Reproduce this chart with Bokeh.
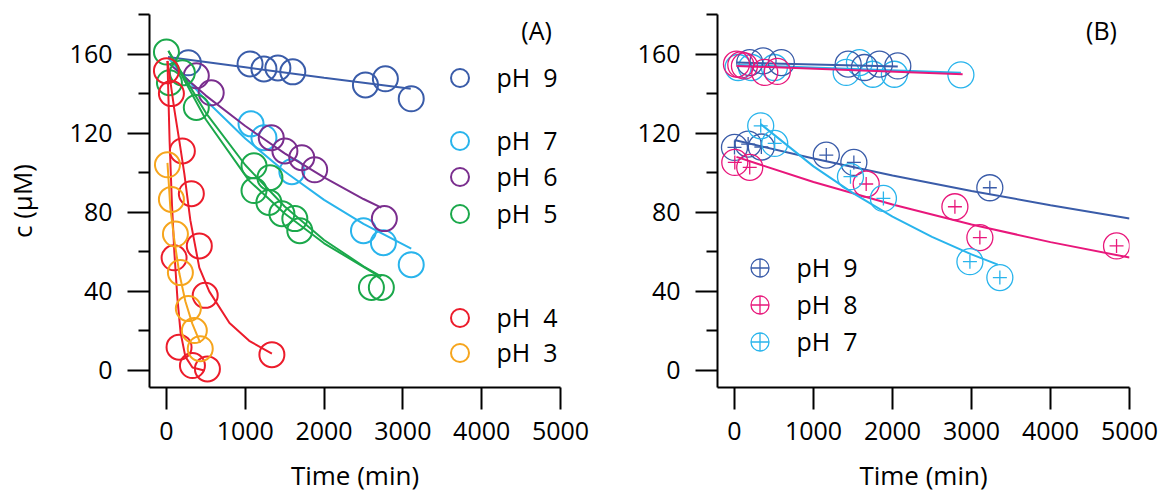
from bokeh.plotting import figure
from bokeh.layouts import row
from bokeh.models import Range1d, FixedTicker, Legend, LegendItem, Label
from bokeh.embed import file_html
from bokeh.resources import INLINE

FONT = "Open Sans"
FS = "25px"
FS_AX = "26px"

# ---------------- Panel A data (time in min, concentration in uM) ----------------
a_ph9_t = [278, 1061, 1237, 1414, 1603, 2525, 2778, 3106]
a_ph9_c = [155.6, 155.0, 152.5, 153.0, 151.0, 144.4, 147.5, 137.4]
a_ph9_fit_t = [20, 1000, 2000, 3100]
a_ph9_fit_c = [158.5, 153.3, 148.0, 142.5]

a_ph7_t = [1073, 1237, 1591, 2500, 2753, 3106]
a_ph7_c = [124.7, 117.7, 100.5, 70.7, 64.6, 53.5]
a_ph7_fit_t = [25, 500, 1000, 1500, 2000, 2500, 3106]
a_ph7_fit_c = [158.0, 136.6, 117.3, 100.6, 86.3, 74.1, 61.6]

a_ph6_t = [379, 568, 1330, 1503, 1717, 1881, 2765]
a_ph6_c = [149.0, 140.4, 117.7, 111.0, 107.6, 101.5, 76.8]
a_ph6_fit_t = [40, 500, 1000, 1500, 2000, 2500, 2727]
a_ph6_fit_c = [155.0, 139.0, 123.6, 109.8, 97.6, 86.7, 82.3]

a_ph5_t = [0, 38, 202, 379, 1111, 1313, 1111, 1300, 1465, 1629, 1692, 2601, 2727]
a_ph5_c = [161.0, 145.5, 150.5, 133.0, 103.5, 97.5, 91.0, 85.0, 79.3, 76.8, 70.7, 42.0, 42.0]
a_ph5_fit1_t = [25, 500, 1048, 1500, 2000, 2664]
a_ph5_fit1_c = [161.6, 126.9, 96.0, 79.4, 64.3, 48.5]
a_ph5_fit2_t = [25, 500, 1000, 1500, 2000, 2500, 2727]
a_ph5_fit2_c = [161.6, 130.3, 103.9, 82.9, 66.0, 52.7, 47.5]

a_ph4_t = [0, 63, 97, 160, 202, 316, 330, 417, 492, 520, 1338]
a_ph4_c = [151.5, 140.0, 57.0, 11.8, 111.0, 89.4, 2.5, 63.0, 38.0, 0.8, 8.0]
a_ph4_fit1_t = [13, 40, 70, 100, 140, 180, 240, 330, 480]
a_ph4_fit1_c = [156.5, 116.0, 84.0, 60.0, 36.0, 19.0, 7.0, 1.5, 0.0]
a_ph4_fit2_t = [13, 100, 164, 227, 303, 417, 543, 800, 1050, 1338]
a_ph4_fit2_c = [156.5, 132.0, 116.0, 99.5, 76.0, 52.0, 40.0, 24.0, 15.0, 8.5]

a_ph3_t = [13, 63, 114, 177, 278, 354, 429]
a_ph3_c = [104.0, 86.5, 69.0, 49.5, 31.3, 20.2, 11.0]
a_ph3_fit_t = [13, 50, 101, 164, 240, 328, 429]
a_ph3_fit_c = [105.0, 82.0, 65.7, 49.0, 35.0, 23.7, 14.0]

# ---------------- Panel B data ----------------
# upper group (plain circles)
b_ph9_hi_t = [193, 362, 593, 1439, 1645, 1835, 2067]
b_ph9_hi_c = [155.7, 156.6, 155.7, 154.9, 153.2, 154.9, 154.0]
b_ph9_hi_fit_t = [25, 2067]
b_ph9_hi_fit_c = [155.7, 153.7]
b_ph8_hi_t = [25, 80, 126, 383, 543]
b_ph8_hi_c = [154.9, 154.5, 154.0, 150.7, 151.2]
b_ph8_hi_fit_t = [25, 2888]
b_ph8_hi_fit_c = [154.0, 149.8]
b_ph7_hi_t = [46, 215, 505, 1414, 1582, 1751, 2024, 2866]
b_ph7_hi_c = [153.2, 153.2, 153.2, 150.7, 155.7, 149.8, 149.8, 149.5]
b_ph7_hi_fit_t = [46, 2866]
b_ph7_hi_fit_c = [154.5, 150.5]

# lower group (circles with cross)
b_ph9_lo_t = [0, 173, 340, 1162, 1511, 3232]
b_ph9_lo_c = [112.8, 114.5, 113.0, 108.9, 105.2, 92.4]
b_ph9_lo_fit_t = [0, 1000, 2000, 3000, 4000, 5000]
b_ph9_lo_fit_c = [116.5, 107.2, 98.6, 90.8, 83.6, 76.9]
b_ph8_lo_t = [4, 193, 1667, 2790, 3106, 4836]
b_ph8_lo_c = [105.2, 102.7, 94.3, 82.8, 67.2, 63.0]
b_ph8_lo_fit_t = [25, 1000, 2000, 3000, 4000, 5000]
b_ph8_lo_fit_c = [108.0, 95.3, 83.9, 73.8, 64.9, 57.1]
b_ph7_lo_t = [332, 509, 1468, 1885, 2980, 3359]
b_ph7_lo_c = [123.7, 114.8, 98.0, 87.0, 55.0, 47.0]
b_ph7_lo_fit_t = [332, 1000, 1500, 2000, 2500, 3000, 3333]
b_ph7_lo_fit_c = [124.6, 103.2, 89.7, 77.8, 67.6, 58.7, 53.5]

x_ticks = [0, 1000, 2000, 3000, 4000, 5000]
y_ticks = [0, 40, 80, 120, 160]
y_minor = [20, 60, 100, 140, 180]

C9 = "#3a5ca9"
C7 = "#29b4ec"
C6 = "#7a2e8e"
C5 = "#1ba84b"
C4 = "#ec1c2b"
C3 = "#f6a51d"
C8 = "#e8177b"

FRAME_H = 373
TOP = 14
HEIGHT = 505


def make_fig(width, left, right):
    p = figure(width=width, height=HEIGHT, x_range=Range1d(-215, 5000), y_range=Range1d(-8.6, 180),
               output_backend="svg", toolbar_location=None,
               min_border_left=left, min_border_right=right, min_border_top=TOP,
               min_border_bottom=HEIGHT - TOP - FRAME_H)
    p.xgrid.visible = False
    p.ygrid.visible = False
    p.outline_line_color = None
    p.background_fill_color = "white"
    p.xaxis.ticker = FixedTicker(ticks=x_ticks, minor_ticks=[])
    p.yaxis.ticker = FixedTicker(ticks=y_ticks, minor_ticks=y_minor)
    for ax in (p.xaxis[0], p.yaxis[0]):
        ax.axis_line_width = 2
        ax.axis_line_color = "black"
        ax.major_tick_line_width = 2
        ax.minor_tick_line_width = 2
        ax.major_tick_out = 22
        ax.major_tick_in = 0
        ax.minor_tick_out = 11
        ax.minor_tick_in = 0
        ax.major_label_text_font = FONT
        ax.major_label_text_font_size = FS
        ax.major_label_text_color = "black"
        ax.axis_label_text_font = FONT
        ax.axis_label_text_font_size = FS_AX
        ax.axis_label_text_font_style = "normal"
        ax.axis_label_text_color = "black"
    p.xaxis.major_label_standoff = 12
    p.yaxis.major_label_standoff = 15
    p.xaxis.axis_label = "Time (min)"
    p.xaxis.axis_label_standoff = 14
    return p


def add_legend(p, renderers, label, cx, cy):
    # cx, cy: centre of legend glyph in px from frame left / frame top
    lg = Legend(items=[LegendItem(label=label, renderers=renderers)],
                location=(cx - 22.5, FRAME_H - cy - 22.5),
                glyph_width=45, glyph_height=45, padding=0, spacing=0, margin=0,
                label_standoff=15, label_text_font=FONT, label_text_font_size=FS,
                label_text_color="black",
                border_line_color=None, background_fill_alpha=0)
    p.add_layout(lg)


# ---------------- Panel A ----------------
pa = make_fig(600, 147, 40)
pa.yaxis.axis_label = "c (\u03bcM)"
pa.yaxis.axis_label_standoff = 27

CS = 25
CW = 2

series_a = [
    (a_ph9_t, a_ph9_c, C9, [(a_ph9_fit_t, a_ph9_fit_c)], "pH  9", 63),
    (a_ph7_t, a_ph7_c, C7, [(a_ph7_fit_t, a_ph7_fit_c)], "pH  7", 126),
    (a_ph6_t, a_ph6_c, C6, [(a_ph6_fit_t, a_ph6_fit_c)], "pH  6", 162),
    (a_ph5_t, a_ph5_c, C5, [(a_ph5_fit1_t, a_ph5_fit1_c), (a_ph5_fit2_t, a_ph5_fit2_c)], "pH  5", 199),
    (a_ph4_t, a_ph4_c, C4, [(a_ph4_fit1_t, a_ph4_fit1_c), (a_ph4_fit2_t, a_ph4_fit2_c)], "pH  4", 303),
    (a_ph3_t, a_ph3_c, C3, [(a_ph3_fit_t, a_ph3_fit_c)], "pH  3", 338),
]
for t, c, col, fits, lab, ly in series_a:
    r = pa.scatter(t, c, marker="circle", size=CS, fill_color=None, line_color=col, line_width=CW)
    for ft, fc in fits:
        pa.line(ft, fc, line_color=col, line_width=2)
    add_legend(pa, [r], lab, 310, ly)

pa.add_layout(Label(x=4697, y=172, text="(A)", text_font=FONT, text_font_size=FS,
                    text_align="center", text_baseline="middle", text_color="black"))

# ---------------- Panel B ----------------
pb = make_fig(559, 117, 30)

BW = 1.3
hi = [
    (b_ph7_hi_t, b_ph7_hi_c, C7, b_ph7_hi_fit_t, b_ph7_hi_fit_c),
    (b_ph9_hi_t, b_ph9_hi_c, C9, b_ph9_hi_fit_t, b_ph9_hi_fit_c),
    (b_ph8_hi_t, b_ph8_hi_c, C8, b_ph8_hi_fit_t, b_ph8_hi_fit_c),
]
for t, c, col, ft, fc in hi:
    pb.scatter(t, c, marker="circle", size=26, fill_color=None, line_color=col, line_width=BW)
    pb.line(ft, fc, line_color=col, line_width=2)

lo = [
    (b_ph9_lo_t, b_ph9_lo_c, C9, b_ph9_lo_fit_t, b_ph9_lo_fit_c, "pH  9", 253),
    (b_ph8_lo_t, b_ph8_lo_c, C8, b_ph8_lo_fit_t, b_ph8_lo_fit_c, "pH  8", 290),
    (b_ph7_lo_t, b_ph7_lo_c, C7, b_ph7_lo_fit_t, b_ph7_lo_fit_c, "pH  7", 327),
]
for t, c, col, ft, fc, lab, ly in lo:
    rc = pb.scatter(t, c, marker="circle", size=26, fill_color=None, line_color=col, line_width=BW)
    rx = pb.scatter(t, c, marker="cross", size=14, line_color=col, line_width=BW)
    pb.line(ft, fc, line_color=col, line_width=2)
    add_legend(pb, [rc, rx], lab, 42, ly)

pb.add_layout(Label(x=4646, y=172, text="(B)", text_font=FONT, text_font_size=FS,
                    text_align="center", text_baseline="middle", text_color="black"))

layout = row(pa, pb)
open("out.html", "w").write(file_html(layout, INLINE))
